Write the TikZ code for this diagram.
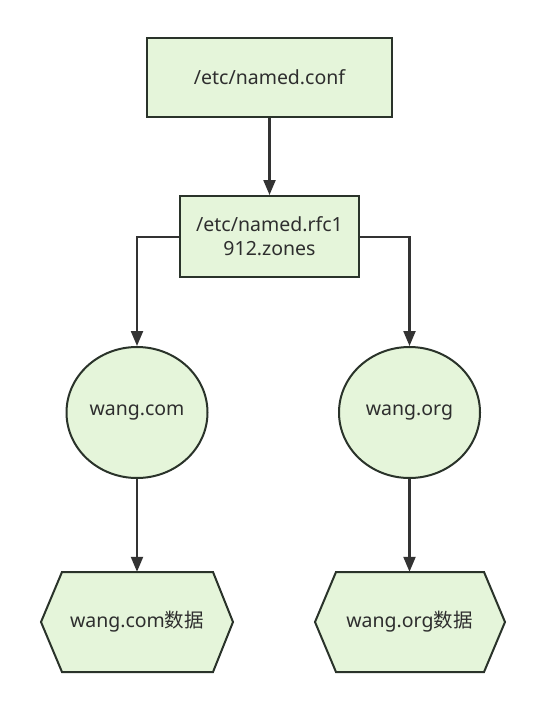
\documentclass[tikz,border=0pt]{standalone}
\usepackage{fontspec}
\setmainfont{Noto Sans}
\newfontfamily\cjk{Noto Sans CJK SC}
\usetikzlibrary{arrows.meta,shapes.geometric,positioning}
\definecolor{nodefill}{HTML}{E5F5DA}
\definecolor{nodeline}{HTML}{2A332A}
\definecolor{txt}{HTML}{2E2E2E}
\definecolor{edge}{HTML}{333333}
\tikzset{
  every node/.style={font=\fontsize{19.5}{24}\selectfont, text=txt},
  boxnode/.style={draw=nodeline, fill=nodefill, line width=2pt, inner sep=0pt},
  ellnode/.style={ellipse, draw=nodeline, fill=nodefill, line width=2pt, minimum width=141pt, minimum height=131pt, inner sep=0pt},
  hexline/.style={draw=nodeline, fill=nodefill, line width=2pt, line join=miter},
  conn/.style={draw=edge, line width=2.2pt, -{Triangle[length=15pt,width=12pt]}},
}
\begin{document}
\begin{tikzpicture}[x=1pt,y=-1pt]
\useasboundingbox (0,0) rectangle (542,709);
\node[boxnode, minimum width=245pt, minimum height=79pt] (conf) at (269.5,77.5) {/etc/named.conf};
\node[boxnode, minimum width=179pt, minimum height=81pt, align=center] (rfc) at (269.5,236.5) {/etc/named.rfc1\\912.zones};
\node[ellnode] (com) at (137,412.5) {wang.com};
\node[ellnode] (org) at (409.5,412.5) {wang.org};
% hexagons
\path[hexline] (41,622) -- (62,572) -- (213,572) -- (233,622) -- (213,672) -- (62,672) -- cycle;
\path[hexline] (315,622) -- (336,572) -- (484,572) -- (505,622) -- (484,672) -- (336,672) -- cycle;
\node[minimum width=150pt, minimum height=100pt, inner sep=0pt] (comdata) at (137,622) {wang.com{\cjk 数据}};
\node[minimum width=150pt, minimum height=100pt, inner sep=0pt] (orgdata) at (409.5,622) {wang.org{\cjk 数据}};
% connectors
\draw[conn] (conf.south) -- (rfc.north);
\draw[conn] (rfc.west |- 0,237) -| (com.north);
\draw[conn] (rfc.east |- 0,237) -| (org.north);
\draw[conn] (com.south) -- (comdata.north);
\draw[conn] (org.south) -- (orgdata.north);
\end{tikzpicture}
\end{document}
